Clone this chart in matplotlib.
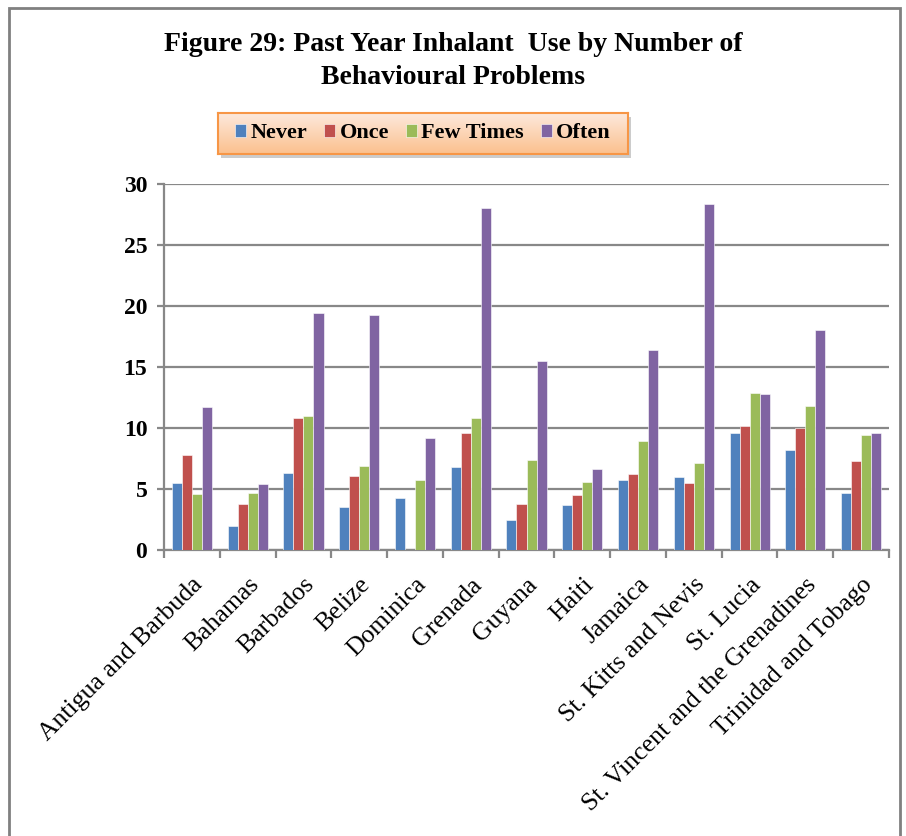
import numpy as np
import matplotlib
matplotlib.use("Agg")
from matplotlib import pyplot as plt
from matplotlib.patches import Rectangle, FancyBboxPatch

countries = ["Antigua and Barbuda", "Bahamas", "Barbados", "Belize", "Dominica",
             "Grenada", "Guyana", "Haiti", "Jamaica", "St. Kitts and Nevis",
             "St. Lucia", "St. Vincent and the Grenadines", "Trinidad and Tobago"]
never = [5.5, 2.0, 6.3, 3.5, 4.3, 6.8, 2.5, 3.7, 5.7, 6.0, 9.6, 8.2, 4.7]
once = [7.8, 3.8, 10.8, 6.1, 0.0, 9.6, 3.8, 4.5, 6.2, 5.5, 10.2, 10.0, 7.3]
few_times = [4.6, 4.7, 11.0, 6.9, 5.7, 10.8, 7.4, 5.6, 8.9, 7.1, 12.9, 11.8, 9.4]
often = [11.7, 5.4, 19.4, 19.3, 9.2, 28.0, 15.5, 6.6, 16.4, 28.4, 12.8, 18.0, 9.6]

series = [("Never", never, "#4F81BD"),
          ("Once", once, "#C0504D"),
          ("Few Times", few_times, "#9BBB59"),
          ("Often", often, "#8064A2")]

plt.rcParams['font.family'] = ['Liberation Serif', 'DejaVu Serif']

fig = plt.figure(figsize=(9.06, 8.36), dpi=100)
W, H = 906, 836

# outer chart frame (bottom edge runs off the page)
fig.patches.append(Rectangle((9 / W, -0.1), (900 - 9) / W, (836 - 8) / H + 0.1,
                             transform=fig.transFigure, fill=False,
                             edgecolor="#808080", linewidth=2, zorder=0))

ax = fig.add_axes([164 / W, 1 - 550 / H, (889 - 164) / W, (550 - 184) / H])

x = np.arange(len(countries))
bw = 0.18
for i, (name, vals, col) in enumerate(series):
    ax.bar(x + (i - 1.5) * bw, vals, bw, color=col, edgecolor="white",
           linewidth=0.4, label=name, zorder=3)

ax.set_xlim(-0.5, len(countries) - 0.5)
ax.set_ylim(0, 30)
ax.set_yticks(range(0, 31, 5))
ax.yaxis.grid(True, color="#888888", linewidth=1.6, zorder=0)
ax.set_axisbelow(True)
for s in ["top", "right"]:
    ax.spines[s].set_visible(False)
for s in ["left", "bottom"]:
    ax.spines[s].set_color("#888888")
    ax.spines[s].set_linewidth(1.6)

ax.tick_params(axis="y", length=5, width=1.6, color="#888888", pad=7)
ax.set_yticklabels([str(v) for v in range(0, 31, 5)], fontsize=17, fontweight="bold")

# boundary ticks between categories, names centred under each group
ax.set_xticks(np.arange(-0.5, len(countries), 1.0))
ax.set_xticklabels([])
ax.tick_params(axis="x", which="major", length=6, width=1.6, color="#888888")
ax.set_xticks(x, minor=True)
ax.set_xticklabels(countries, minor=True, rotation=45, ha="right", va="top",
                   rotation_mode="anchor", fontsize=18.5)
ax.tick_params(axis="x", which="minor", length=0, pad=17)

fig.text(0.5, 1 - 61 / H, "Figure 29: Past Year Inhalant  Use by Number of\nBehavioural Problems",
         ha="center", va="center", fontsize=20, fontweight="bold", linespacing=1.4)

# legend box with orange gradient and shadow
lx0, ly0, lx1, ly1 = 218, 113, 628, 154
shadow = FancyBboxPatch((lx0 / W + 3 / W, 1 - ly1 / H - 4 / H), (lx1 - lx0) / W, (ly1 - ly0) / H,
                        boxstyle="square,pad=0", transform=fig.transFigure,
                        facecolor="#9a9a9a", edgecolor="none", alpha=0.5, zorder=1)
fig.patches.append(shadow)
grad = np.linspace(0, 1, 64).reshape(-1, 1)
top_c = np.array([0xFD, 0xE9, 0xDC]) / 255
bot_c = np.array([0xFB, 0xC0, 0x8E]) / 255
img = top_c * (1 - grad)[..., None] + bot_c * grad[..., None]
lax = fig.add_axes([lx0 / W, 1 - ly1 / H, (lx1 - lx0) / W, (ly1 - ly0) / H], zorder=5)
lax.imshow(img, aspect="auto", extent=[0, 1, 0, 1])
lax.set_xticks([])
lax.set_yticks([])
for s in lax.spines.values():
    s.set_color("#F79646")
    s.set_linewidth(1.5)

handles, labels = ax.get_legend_handles_labels()
leg = lax.legend(handles, labels, loc="center", ncol=4, frameon=False,
                 prop={"weight": "bold", "size": 16}, handlelength=0.5, handleheight=0.5,
                 handletextpad=0.2, columnspacing=0.75, borderaxespad=0)

fig.savefig("out.png", dpi=100)
